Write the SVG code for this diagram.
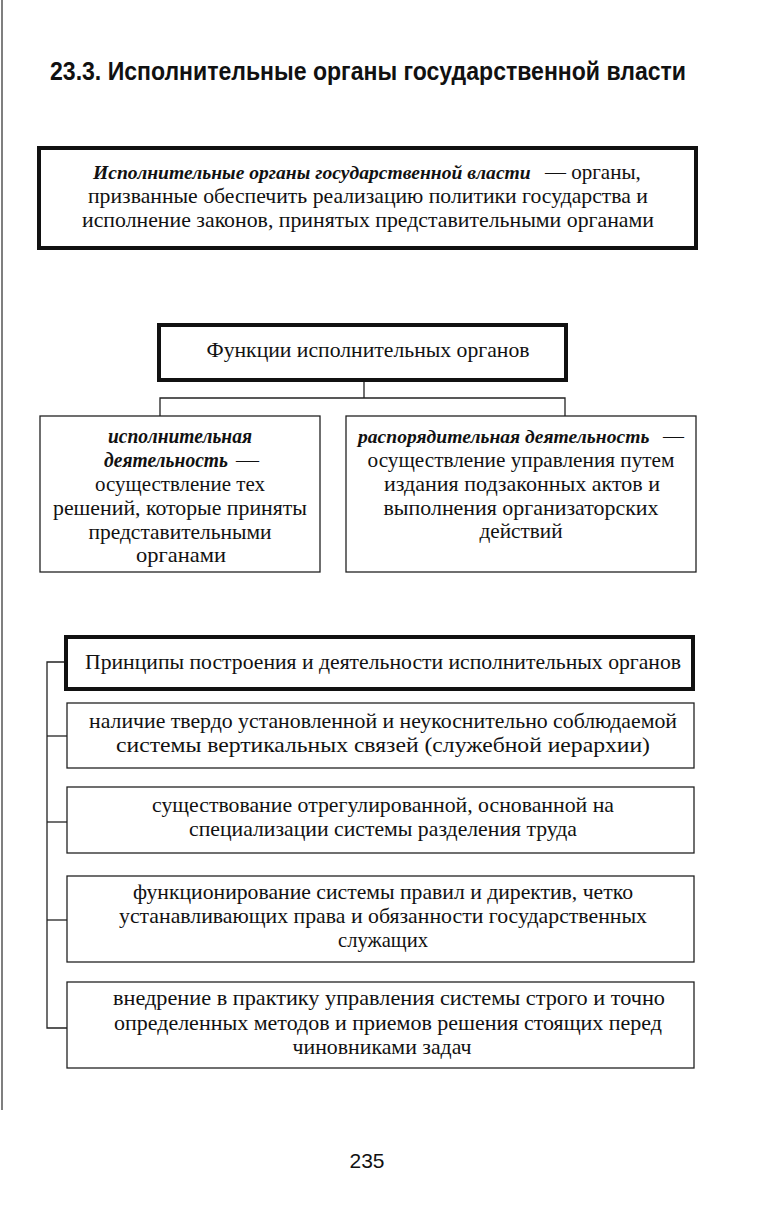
<svg xmlns="http://www.w3.org/2000/svg" width="782" height="1229" viewBox="0 0 782 1229">
<style>
.t{font-family:"Liberation Serif","Times New Roman",serif;font-size:21px;fill:#111;text-anchor:middle}
.s{text-anchor:start}
.bi{font-weight:bold;font-style:italic}
.thick{fill:#fff;stroke:#111;stroke-width:4}
.thin{fill:#fff;stroke:#222;stroke-width:1.3}
.c{fill:none;stroke:#222;stroke-width:1.3}
</style>
<rect width="782" height="1229" fill="#fff"/>
<line x1="2" y1="0" x2="2" y2="1110" stroke="#555" stroke-width="1.5"/>
<text x="368" y="80" font-family="Liberation Sans,Arial,sans-serif" font-weight="bold" font-size="26" fill="#111" text-anchor="middle" textLength="636" lengthAdjust="spacingAndGlyphs">23.3. Исполнительные органы государственной власти</text>

<g id="definition">
<rect class="thick" x="39" y="148" width="657" height="100"/>
<text class="t s bi" x="93" y="179" style="font-size:19.6px">Исполнительные органы государственной власти</text>
<text class="t s" x="545" y="179">— органы,</text>
<text class="t" x="368" y="203" textLength="560" lengthAdjust="spacingAndGlyphs">призванные обеспечить реализацию политики государства и</text>
<text class="t" x="368" y="227" textLength="572" lengthAdjust="spacingAndGlyphs">исполнение законов, принятых представительными органами</text>
</g>

<g id="connectors">
<polyline class="c" points="364,381 364,398"/>
<polyline class="c" points="160,416 160,398 565,398 565,416"/>
<polyline class="c" points="65,662 47,662 47,1028 67,1028"/>
<line class="c" x1="47" y1="736" x2="67" y2="736"/>
<line class="c" x1="47" y1="822" x2="67" y2="822"/>
<line class="c" x1="47" y1="920" x2="67" y2="920"/>
</g>

<g id="functions">
<rect class="thick" x="159" y="325" width="407" height="55"/>
<text class="t" x="368" y="357" textLength="323" lengthAdjust="spacingAndGlyphs">Функции исполнительных органов</text>
</g>

<g id="exec-activity">
<rect class="thin" x="40" y="416" width="280" height="156"/>
<text class="t bi" x="180" y="443" textLength="144" lengthAdjust="spacingAndGlyphs">исполнительная</text>
<text class="t s bi" x="104" y="467" textLength="124" lengthAdjust="spacingAndGlyphs">деятельность</text>
<text class="t s" x="236" y="467" textLength="23" lengthAdjust="spacingAndGlyphs">—</text>
<text class="t" x="180" y="491" textLength="170" lengthAdjust="spacingAndGlyphs">осуществление тех</text>
<text class="t" x="180" y="515" textLength="254" lengthAdjust="spacingAndGlyphs">решений, которые приняты</text>
<text class="t" x="180" y="539" textLength="183" lengthAdjust="spacingAndGlyphs">представительными</text>
<text class="t" x="181" y="562" textLength="90" lengthAdjust="spacingAndGlyphs">органами</text>
</g>

<g id="admin-activity">
<rect class="thin" x="346" y="416" width="350" height="156"/>
<text class="t s bi" x="358" y="443" style="font-size:19.6px">распорядительная деятельность</text>
<text class="t s" x="663" y="443">—</text>
<text class="t" x="521" y="467" textLength="307" lengthAdjust="spacingAndGlyphs">осуществление управления путем</text>
<text class="t" x="522" y="491" textLength="276" lengthAdjust="spacingAndGlyphs">издания подзаконных актов и</text>
<text class="t" x="521" y="515" textLength="275" lengthAdjust="spacingAndGlyphs">выполнения организаторских</text>
<text class="t" x="521" y="538" textLength="83" lengthAdjust="spacingAndGlyphs">действий</text>
</g>

<g id="principles">
<rect class="thick" x="66" y="637" width="627" height="52"/>
<text class="t" x="383" y="669" textLength="596" lengthAdjust="spacingAndGlyphs">Принципы построения и деятельности исполнительных органов</text>
</g>

<g id="p1">
<rect class="thin" x="67" y="703" width="627" height="65"/>
<text class="t" x="383" y="728" textLength="588" lengthAdjust="spacingAndGlyphs">наличие твердо установленной и неукоснительно соблюдаемой</text>
<text class="t" x="383" y="752" textLength="534" lengthAdjust="spacingAndGlyphs">системы вертикальных связей (служебной иерархии)</text>
</g>

<g id="p2">
<rect class="thin" x="67" y="787" width="627" height="66"/>
<text class="t" x="383" y="812" textLength="462" lengthAdjust="spacingAndGlyphs">существование отрегулированной, основанной на</text>
<text class="t" x="383" y="836" textLength="388" lengthAdjust="spacingAndGlyphs">специализации системы разделения труда</text>
</g>

<g id="p3">
<rect class="thin" x="67" y="876" width="627" height="86"/>
<text class="t" x="383" y="899" textLength="500" lengthAdjust="spacingAndGlyphs">функционирование системы правил и директив, четко</text>
<text class="t" x="383" y="923" textLength="528" lengthAdjust="spacingAndGlyphs">устанавливающих права и обязанности государственных</text>
<text class="t" x="383" y="947" textLength="90" lengthAdjust="spacingAndGlyphs">служащих</text>
</g>

<g id="p4">
<rect class="thin" x="67" y="982" width="627" height="86"/>
<text class="t" x="389" y="1005" textLength="552" lengthAdjust="spacingAndGlyphs">внедрение в практику управления системы строго и точно</text>
<text class="t" x="388" y="1030" textLength="548" lengthAdjust="spacingAndGlyphs">определенных методов и приемов решения стоящих перед</text>
<text class="t" x="382" y="1054" textLength="179" lengthAdjust="spacingAndGlyphs">чиновниками задач</text>
</g>

<text x="367" y="1168" font-family="Liberation Sans,Arial,sans-serif" font-size="21" fill="#111" text-anchor="middle">235</text>
</svg>
